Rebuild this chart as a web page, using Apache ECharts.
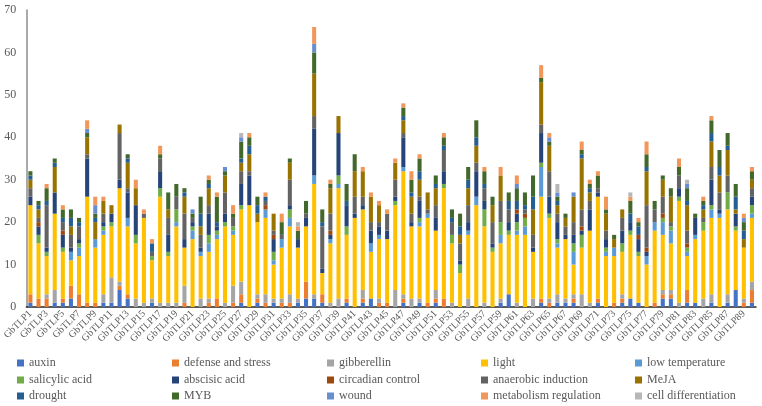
<!DOCTYPE html>
<html>
<head>
<meta charset="utf-8">
<script src="https://cdn.jsdelivr.net/npm/echarts@6/dist/echarts.min.js"></script>
<style>
html,body{margin:0;padding:0;background:#fff;}
#chart{width:762px;height:406px;}
</style>
</head>
<body>
<div id="chart"></div>
<script>
const categories = Array.from({length: 90}, (_, i) => 'GbTLP' + (i + 1));
const yTicks = [0, 10, 20, 30, 40, 50, 60, 70];

const auxin = [1,0,0,1,1,2,0,0,0,1, 1,4,2,0,0,1,0,0,0,0, 0,0,0,0,0,0,1,0,1,0, 1,0,0,1,2,2,1,0,0,1, 0,1,2,0,0,0,1,0,1,0, 1,0,0,0,0,0,0,0,1,3, 0,0,0,1,0,1,1,1,0,0, 1,0,0,1,2,1,0,0,2,2, 0,1,1,0,1,0,1,4,0,1];
const defenseStress = [2,2,2,0,1,3,3,1,1,0, 0,1,1,0,0,0,0,0,0,1, 0,0,1,2,0,1,2,0,1,1, 0,1,1,0,4,0,2,0,0,1, 0,1,0,1,1,0,1,0,0,1, 1,2,0,0,0,0,0,0,0,0, 0,0,0,1,1,0,0,1,0,0, 1,0,1,1,0,0,0,1,1,1, 0,3,0,0,0,0,0,0,1,3];
const gibberellin = [0,0,1,3,0,0,0,0,0,2, 6,1,0,2,1,1,1,1,1,4, 0,2,1,0,1,4,3,0,1,2, 1,1,2,1,0,1,0,1,2,0, 0,2,0,1,0,4,1,2,1,0, 2,0,1,0,2,0,1,0,1,0, 1,0,2,0,1,2,1,1,3,1, 0,0,0,1,0,0,0,0,1,1, 1,0,0,2,2,0,2,0,1,2];
const light = [21,13,9,18,11,6,9,25,13,14, 12,22,16,13,20,9,25,11,18,9, 16,10,11,14,18,12,17,24,17,18, 8,12,16,12,13,26,5,14,26,15, 21,19,11,14,15,20,29,17,17,20, 14,26,14,8,15,24,18,13,13,14, 16,17,11,24,19,11,14,7,11,17, 24,12,11,10,15,11,10,17,13,11, 24,8,15,16,18,21,20,14,12,15];
const lowTemperature = [0,0,0,0,0,2,2,0,2,1, 0,0,2,0,0,0,0,0,1,0, 2,1,2,1,0,1,0,0,0,2, 1,2,2,0,0,2,0,1,1,0, 0,0,2,1,0,0,1,0,1,1, 0,0,0,0,1,2,0,0,2,0, 1,2,0,7,0,1,0,3,0,0, 0,1,2,0,0,0,2,2,3,3, 0,1,1,0,2,1,0,0,0,1];
const salicylicAcid = [0,2,1,0,1,0,1,0,0,1, 1,0,0,2,0,1,2,1,3,0, 1,0,2,1,1,1,1,0,0,0, 2,0,2,0,0,0,0,0,2,2, 0,0,0,0,0,1,0,0,1,0, 0,1,2,2,0,0,4,1,3,1, 2,2,0,1,1,1,0,2,3,0, 0,1,0,2,1,1,0,0,1,1, 1,1,0,2,1,0,4,1,0,2];
const abscisicAcid = [2,2,1,5,3,1,1,9,0,1, 2,2,6,7,0,0,4,4,0,2, 1,1,5,1,2,0,5,7,0,0, 3,0,1,2,2,11,1,1,10,5, 1,1,3,2,2,1,7,1,4,0, 3,3,0,1,2,6,2,1,0,2, 2,0,1,7,4,4,1,2,1,5, 1,2,0,3,2,3,1,0,0,0, 2,0,4,0,6,1,0,3,0,2];
const circadianControl = [0,1,0,0,1,0,0,0,0,0, 0,0,0,0,0,0,0,0,0,0, 0,0,0,0,0,0,0,0,0,1, 1,0,0,0,0,0,0,1,0,0, 0,0,0,0,0,0,0,0,0,0, 0,0,0,0,0,0,0,0,0,0, 1,1,0,0,0,0,0,0,1,0, 0,0,0,0,0,1,1,0,1,0, 0,1,0,0,0,0,0,0,0,0];
const anaerobicInduction = [2,1,10,0,2,3,3,1,0,2, 0,11,1,0,1,1,3,4,3,6, 1,3,2,0,5,2,3,1,0,1, 1,1,6,0,1,3,10,4,0,0, 4,2,2,1,4,4,1,2,1,1, 3,5,3,4,4,2,3,5,5,3, 0,1,3,2,6,2,2,3,4,2, 1,2,0,3,0,0,10,3,4,1, 3,3,0,1,3,4,4,0,0,2];
const meja = [2,2,0,6,0,2,0,4,4,3, 2,2,6,4,0,0,0,2,0,4, 0,2,4,0,4,0,2,4,2,0, 4,0,4,0,0,10,0,6,4,0, 6,6,6,4,0,4,3,4,4,4, 4,0,0,2,4,4,0,4,6,0, 0,0,6,10,6,2,2,6,12,2, 0,4,2,2,0,0,8,0,4,6, 0,6,0,2,6,4,6,1,2,2];
const drought = [1,1,1,1,1,2,1,0,1,0, 0,0,1,0,0,2,0,0,0,1, 0,3,1,1,0,0,1,2,2,1, 0,0,0,0,0,0,1,0,0,1, 0,0,0,0,0,0,1,1,2,0, 1,1,1,2,2,2,1,0,0,2, 2,1,3,0,0,1,0,0,1,1, 0,0,0,0,2,2,1,0,0,0, 0,1,0,1,2,2,1,3,2,0];
const myb = [1,1,3,1,2,2,1,1,1,0, 0,0,1,0,0,0,1,4,3,1, 1,4,1,6,1,1,4,2,2,0, 0,3,1,2,3,5,3,1,0,4, 4,0,0,0,0,0,2,3,3,0, 2,2,2,3,3,4,3,2,0,2, 3,3,5,1,1,1,1,0,1,1, 3,1,1,0,3,1,3,2,1,2, 2,3,1,1,3,4,3,3,2,2];
const wound = [0,0,0,0,0,0,0,1,2,0, 0,0,0,0,0,0,0,0,0,0, 1,0,0,0,1,0,1,0,0,0, 0,0,0,0,0,2,0,0,0,0, 0,0,0,0,0,0,0,0,0,0, 0,0,0,0,0,0,0,0,0,0, 1,0,0,0,1,1,0,1,0,0, 0,0,0,0,0,0,0,0,0,0, 0,1,0,0,0,0,0,0,1,0];
const metabolismRegulation = [0,0,1,0,1,0,0,2,2,1, 0,0,0,2,1,1,2,0,0,0, 0,0,1,1,0,2,0,1,0,1, 0,2,0,1,0,4,0,1,0,0, 0,1,1,1,1,1,1,2,1,0, 0,1,0,0,0,0,1,0,2,0, 2,0,0,3,1,0,0,0,2,1, 1,3,0,0,1,1,3,0,0,0, 2,0,0,1,1,0,0,0,1,1];
const cellDifferentiation = [0,0,0,0,0,0,0,0,0,0, 0,0,0,0,0,0,0,0,0,0, 0,0,0,0,0,0,1,0,0,0, 0,0,0,1,0,0,0,0,0,0, 0,0,0,0,0,0,0,0,0,0, 0,0,0,0,0,0,0,0,0,0, 0,0,0,0,0,2,0,0,0,0, 0,0,0,0,1,0,0,0,0,0, 0,1,0,0,0,0,0,0,0,0];

const seriesNames = ['auxin','defense and stress','gibberellin','light','low temperature',
  'salicylic acid','abscisic acid','circadian control','anaerobic induction','MeJA',
  'drought','MYB','wound','metabolism regulation','cell differentiation'];
const seriesValues = [auxin, defenseStress, gibberellin, light, lowTemperature,
  salicylicAcid, abscisicAcid, circadianControl, anaerobicInduction, meja,
  drought, myb, wound, metabolismRegulation, cellDifferentiation];
const colors = ['#4472C4','#ED7D31','#A5A5A5','#FFC000','#5B9BD5','#70AD47','#264478',
  '#9E480E','#636363','#997300','#255E91','#43682B','#698ED0','#F1975A','#B7B7B7'];

const FONT = '"Liberation Serif", "Times New Roman", serif';
const colX = [17, 172, 327, 481, 635];
const rowY = [356, 373, 389];

const legends = seriesNames.map((name, i) => ({
  data: [name],
  left: colX[i % 5],
  top: rowY[Math.floor(i / 5)],
  padding: 0,
  itemWidth: 7,
  itemHeight: 7,
  icon: 'rect',
  selectedMode: false,
  textStyle: {fontFamily: FONT, fontSize: 12, color: '#595959', lineHeight: 14}
}));

const chart = echarts.init(document.getElementById('chart'), null, {renderer: 'canvas'});
chart.setOption({
  backgroundColor: '#ffffff',
  animation: false,
  color: colors,
  legend: legends,
  grid: {left: 26, right: 6, top: 10, bottom: 99, containLabel: false},
  xAxis: {
    type: 'category',
    data: categories,
    boundaryGap: true,
    axisLine: {show: true, lineStyle: {color: '#262626', width: 1.5}},
    axisTick: {show: false},
    axisLabel: {
      interval: 1, rotate: 45, margin: 5,
      fontFamily: FONT, fontSize: 10, color: '#595959'
    },
    splitLine: {show: false}
  },
  yAxis: {
    type: 'value',
    min: yTicks[0], max: yTicks[yTicks.length - 1], interval: 10,
    axisLine: {show: true, lineStyle: {color: '#8c8c8c', width: 1.5}},
    axisTick: {show: false},
    axisLabel: {margin: 10, fontFamily: FONT, fontSize: 12, color: '#595959'},
    splitLine: {show: false}
  },
  series: seriesNames.map((name, i) => ({
    name: name,
    type: 'bar',
    stack: 'total',
    barWidth: '50%',
    data: seriesValues[i],
    itemStyle: {color: colors[i]}
  }))
});
</script>
</body>
</html>
